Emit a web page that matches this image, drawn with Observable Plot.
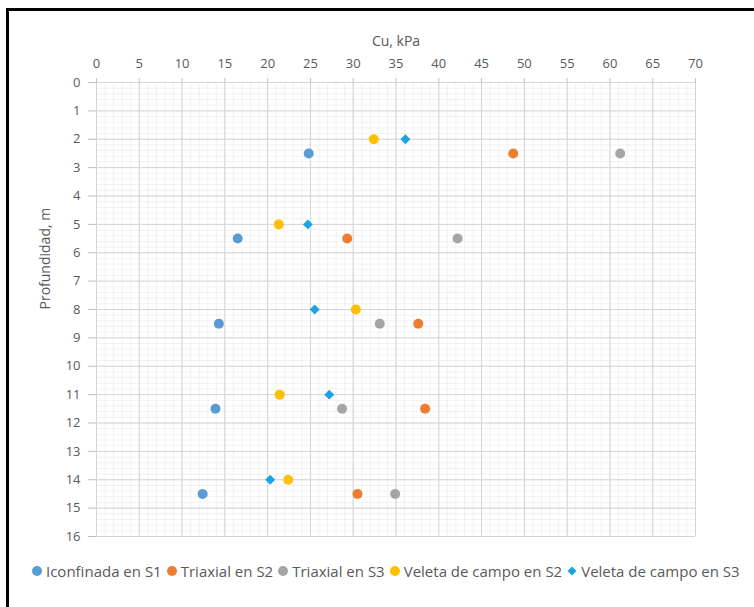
<!DOCTYPE html>
<html><head><meta charset="utf-8">
<script src="https://cdn.jsdelivr.net/npm/d3@7"></script>
<script src="https://cdn.jsdelivr.net/npm/@observablehq/plot@0.6"></script>
<style>
html,body{margin:0;padding:0;background:#fff;overflow:hidden;width:754px;height:607px;font-family:"Open Sans",sans-serif;}
#frame{position:absolute;left:6px;top:8px;width:780px;height:640px;border-left:3px solid #000;border-top:3px solid #000;}
#chart{position:absolute;left:0;top:0;}
#legend{position:absolute;top:561px;left:31px;display:flex;align-items:center;font-size:15px;color:#595959;white-space:nowrap;}
#legend .item{display:flex;align-items:center;margin-right:4px;}
#legend svg{margin-right:3px;}
</style></head>
<body>
<div id="frame"></div>
<div id="chart"></div>
<div id="legend"></div>
<script>
const depthPoints = [2.5, 5.5, 8.5, 11.5, 14.5];
const depthVeleta = [2, 5, 8, 11, 14];
const iconfinadaS1 = [24.8, 16.5, 14.3, 13.9, 12.4];
const triaxialS2 = [48.7, 29.3, 37.6, 38.4, 30.5];
const triaxialS3 = [61.2, 42.2, 33.1, 28.7, 34.9];
const veletaS2 = [32.4, 21.3, 30.3, 21.4, 22.4];
const veletaS3 = [36.1, 24.7, 25.5, 27.2, 20.3];
const seriesNames = ["Iconfinada en S1", "Triaxial en S2", "Triaxial en S3", "Veleta de campo en S2", "Veleta de campo en S3"];
const seriesColors = ["#5b9bd5", "#ed7d31", "#a5a5a5", "#ffc000", "#1ca3e6"];
const seriesSymbols = ["circle", "circle", "circle", "circle", "diamond2"];
const xTicks = d3.range(0, 71, 5);
const yTicks = d3.range(0, 17, 1);
const xTitle = "Cu, kPa";
const yTitle = "Profundidad, m";

const seriesValues = [iconfinadaS1, triaxialS2, triaxialS3, veletaS2, veletaS3];
const seriesDepths = [depthPoints, depthPoints, depthPoints, depthVeleta, depthVeleta];
const data = [];
seriesNames.forEach((name, i) => {
  seriesValues[i].forEach((v, j) => data.push({series: name, cu: v, depth: seriesDepths[i][j], symbol: seriesSymbols[i]}));
});

const gray = "#595959";
const chart = Plot.plot({
  width: 754,
  height: 560,
  marginLeft: 96,
  marginRight: 59,
  marginTop: 82,
  marginBottom: 24,
  style: {fontFamily: "'Open Sans', sans-serif", fontSize: "13px", color: gray, background: "transparent"},
  x: {domain: [0, 70]},
  y: {domain: [0, 16], reverse: true},
  color: {domain: seriesNames, range: seriesColors},
  marks: [
    Plot.gridX(d3.range(0, 71, 1), {stroke: "#f1f1f1", strokeOpacity: 1}),
    Plot.gridY(d3.range(0, 16.01, 0.2), {stroke: "#f1f1f1", strokeOpacity: 1}),
    Plot.gridX(xTicks, {stroke: "#d4d4d4", strokeOpacity: 1}),
    Plot.gridY(yTicks, {stroke: "#d4d4d4", strokeOpacity: 1}),
    Plot.axisX(xTicks, {anchor: "top", tickSize: 5, tickPadding: 10, stroke: "#bfbfbf", color: gray, label: null}),
    Plot.axisY(yTicks, {anchor: "left", tickSize: 8, tickPadding: 8, stroke: "#bfbfbf", color: gray, label: null}),
    Plot.text([xTitle], {frameAnchor: "top", lineAnchor: "middle", dy: -41, fontSize: 14, fill: gray}),
    Plot.text([yTitle], {frameAnchor: "left", dx: -51, rotate: -90, fontSize: 14, fill: gray}),
    Plot.dot(data.filter(d => d.symbol === "circle"), {x: "cu", y: "depth", fill: "series", symbol: "circle", r: 5}),
    Plot.dot(data.filter(d => d.symbol !== "circle"), {x: "cu", y: "depth", fill: "series", symbol: "diamond2", r: 4.5})
  ]
});
document.getElementById("chart").appendChild(chart);

const legend = document.getElementById("legend");
seriesNames.forEach((name, i) => {
  const item = document.createElement("div");
  item.className = "item";
  const shape = seriesSymbols[i] === "circle"
    ? `<circle cx="6" cy="6" r="5" fill="${seriesColors[i]}"/>`
    : `<path d="M6 1.5 L10.5 6 L6 10.5 L1.5 6 Z" fill="${seriesColors[i]}"/>`;
  item.innerHTML = `<svg width="12" height="12">${shape}</svg><span>${name}</span>`;
  legend.appendChild(item);
});
</script>
</body></html>
